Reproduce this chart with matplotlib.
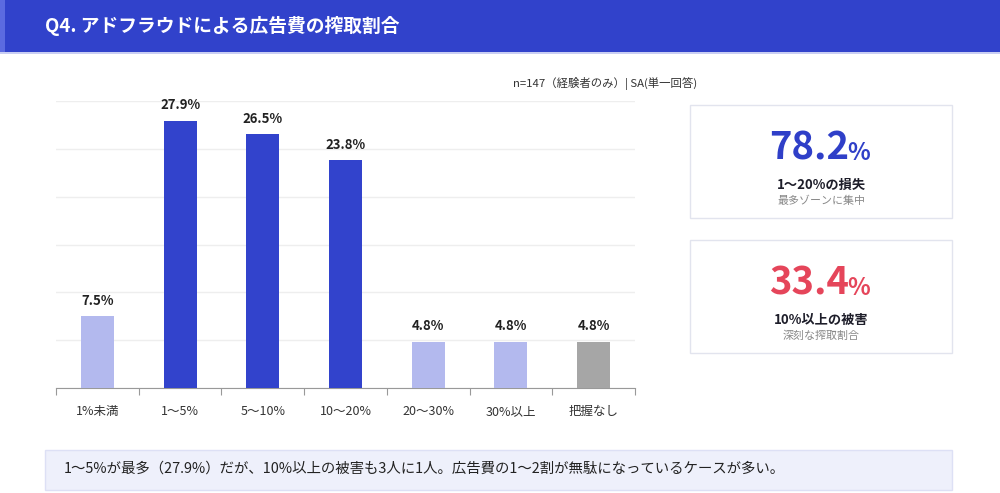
import matplotlib
matplotlib.use("Agg")
import matplotlib.pyplot as plt
from matplotlib.patches import Rectangle

plt.rcParams['font.family'] = ['Noto Sans CJK JP', 'DejaVu Sans']

categories = ["1%未満", "1〜5%", "5〜10%", "10〜20%", "20〜30%", "30%以上", "把握なし"]
values = [7.5, 27.9, 26.5, 23.8, 4.8, 4.8, 4.8]
bar_colors = ["#B3B9EE", "#3243CC", "#3243CC", "#3243CC", "#B3B9EE", "#B3B9EE", "#A6A6A6"]

title = "Q4. アドフラウドによる広告費の搾取割合"
subtitle = "n=147（経験者のみ）| SA(単一回答)"
card_values = ["78.2", "33.4"]
card_colors = ["#2F3FC8", "#E5455A"]
card_labels = ["1〜20%の損失", "10%以上の被害"]
card_subs = ["最多ゾーンに集中", "深刻な搾取割合"]
note = "1〜5%が最多（27.9%）だが、10%以上の被害も3人に1人。広告費の1〜2割が無駄になっているケースが多い。"

W, H = 1000, 493
fig = plt.figure(figsize=(W / 100, H / 100), dpi=100)
fig.patch.set_facecolor("white")

def fx(x):
    return x / W

def fy(y):
    return 1 - y / H

# title bar
fig.patches.append(Rectangle((0, fy(52)), 1, 52 / H, transform=fig.transFigure,
                             facecolor="#3142CB", edgecolor="none", zorder=0))
fig.patches.append(Rectangle((0, fy(52)), fx(5), 52 / H, transform=fig.transFigure,
                             facecolor="#5B6AE0", edgecolor="none", zorder=1))
fig.patches.append(Rectangle((0, fy(54)), 1, 2 / H, transform=fig.transFigure,
                             facecolor="#C9CEF3", edgecolor="none", zorder=1))
fig.text(fx(45), fy(26), title, color="white", fontsize=13.5, fontweight="bold",
         ha="left", va="center")

# subtitle
fig.text(fx(697), fy(84), subtitle, color="#333333", fontsize=8.2, ha="right", va="center")

# chart
ax = fig.add_axes([fx(56), fy(388), (635 - 56) / W, (388 - 101) / H])
x = list(range(len(categories)))
ax.bar(x, values, width=0.4, color=bar_colors, zorder=3)
for xi, v in zip(x, values):
    ax.text(xi, v + 0.9, f"{v}%", ha="center", va="bottom", fontsize=9.5,
            fontweight="bold", color="#222222")
ax.set_xlim(-0.5, len(categories) - 0.5)
ax.set_ylim(0, 30)
ax.set_yticks([0, 5, 10, 15, 20, 25, 30])
ax.yaxis.grid(True, color="#EEEEEE", linewidth=1, zorder=0)
ax.tick_params(axis="y", left=False, labelleft=False)
ax.set_xticks([i - 0.5 for i in range(len(categories) + 1)], minor=False)
ax.set_xticklabels([""] * (len(categories) + 1))
ax.tick_params(axis="x", which="major", length=5, color="#999999", direction="out")
ax.set_xticks(x, minor=True)
ax.set_xticklabels(categories, minor=True)
ax.tick_params(axis="x", which="minor", length=0, pad=12, labelsize=9, labelcolor="#333333")
for s in ["top", "right", "left"]:
    ax.spines[s].set_visible(False)
ax.spines["bottom"].set_color("#999999")

# cards
card_tops = [105, 240]
for top, val, col, lab, sub in zip(card_tops, card_values, card_colors, card_labels, card_subs):
    fig.patches.append(Rectangle((fx(690), fy(top + 113)), (952 - 690) / W, 113 / H,
                                 transform=fig.transFigure, facecolor="white",
                                 edgecolor="#E2E4EE", linewidth=1, zorder=1))
    fig.text(fx(809), fy(top + 43), val, color=col, fontsize=27.5, fontweight="bold",
             ha="center", va="center")
    fig.text(fx(847), fy(top + 48), "%", color=col, fontsize=17, fontweight="bold",
             ha="left", va="center")
    fig.text(fx(821), fy(top + 80), lab, color="#1E1E2A", fontsize=9.5, fontweight="bold",
             ha="center", va="center")
    fig.text(fx(821), fy(top + 96), sub, color="#888888", fontsize=7.9,
             ha="center", va="center")

# note box
fig.patches.append(Rectangle((fx(45), fy(490)), (952 - 45) / W, 40 / H,
                             transform=fig.transFigure, facecolor="#EEF0FB",
                             edgecolor="#DDE0F5", linewidth=1, zorder=1))
fig.text(fx(64), fy(469), note, color="#222222", fontsize=10.4, ha="left", va="center")

fig.savefig("out.png", dpi=100)
